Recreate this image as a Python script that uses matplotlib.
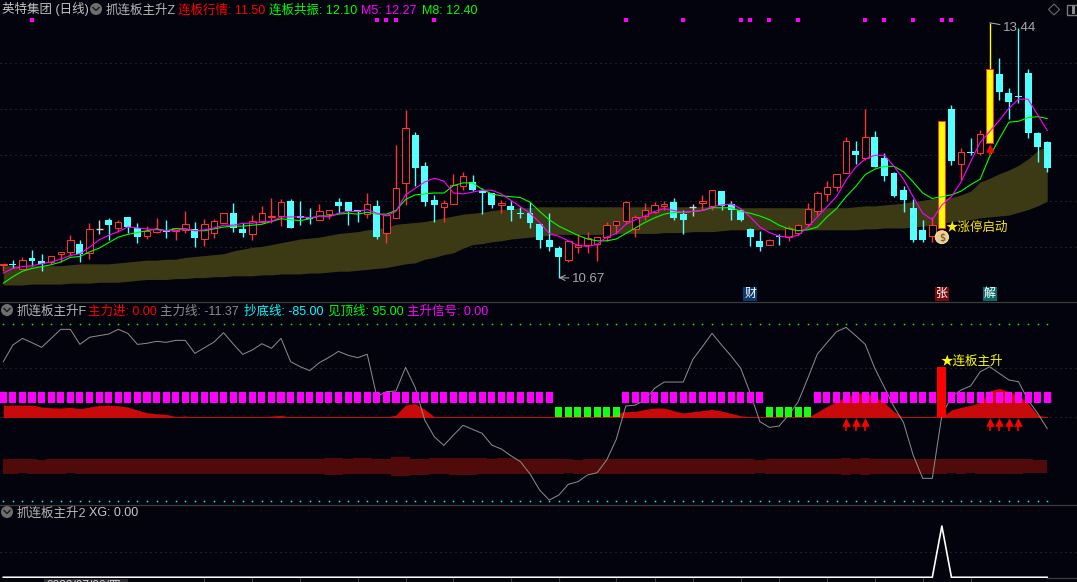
import matplotlib
matplotlib.use('Agg')
import numpy as np
import matplotlib.pyplot as plt
from matplotlib.patches import Circle, Ellipse, Polygon, Rectangle

plt.rcParams['font.family'] = ['Liberation Sans', 'Noto Sans CJK SC', 'DejaVu Sans']

# daily candles
opens = [10.81,10.82,10.76,10.88,10.85,10.84,10.93,10.95,11.04,10.94,11.20,11.30,11.21,11.33,11.21,11.12,11.17,11.19,11.18,11.19,11.20,11.09,11.15,11.26,11.37,11.20,11.14,11.27,11.33,11.34,11.50,11.34,11.33,11.30,11.36,11.49,11.49,11.40,
         11.36,11.45,11.16,11.32,11.70,12.22,11.88,11.51,11.44,11.47,11.67,11.71,11.61,11.59,11.46,11.45,11.37,11.37,11.25,11.08,10.99,10.86,11.00,11.03,11.04,11.11,11.24,11.29,11.20,11.34,11.38,11.45,11.49,11.36,11.44,11.48,11.45,
         11.61,11.47,11.41,11.20,11.07,11.02,11.12,11.11,11.16,11.25,11.39,11.58,11.65,11.81,12.05,11.97,12.20,11.97,11.81,11.62,11.43,11.19,11.12,11.21,12.50,11.90,12.04,12.02,12.13,12.88,12.68,12.64,12.89,12.24,12.14]
closes = [10.82,10.81,10.86,10.85,10.82,10.91,10.95,11.08,10.93,11.20,11.20,11.24,11.28,11.22,11.11,11.18,11.20,11.17,11.21,11.25,11.10,11.25,11.29,11.37,11.21,11.15,11.29,11.37,11.34,11.49,11.21,11.32,11.31,11.39,11.41,11.45,11.39,11.38,
          11.47,11.11,11.35,11.64,12.30,11.86,11.49,11.46,11.48,11.68,11.77,11.62,11.59,11.46,11.48,11.41,11.36,11.26,11.08,11.00,10.89,11.07,11.03,11.10,11.11,11.24,11.29,11.49,11.33,11.40,11.46,11.47,11.32,11.30,11.44,11.50,11.62,
          11.45,11.40,11.30,11.11,11.00,11.08,11.11,11.21,11.24,11.42,11.59,11.66,11.80,12.16,12.00,12.20,11.87,11.77,11.56,11.51,11.08,11.08,11.24,12.37,11.94,12.04,12.03,12.23,12.94,12.69,12.58,12.63,12.24,12.09,11.86]
highs = [10.82,10.86,10.89,10.97,10.93,10.91,10.95,11.13,11.08,11.26,11.30,11.32,11.30,11.33,11.26,11.23,11.32,11.30,11.21,11.39,11.28,11.31,11.31,11.37,11.48,11.26,11.35,11.45,11.54,11.53,11.52,11.50,11.43,11.47,11.41,11.54,11.49,11.41,
         11.59,11.51,11.35,12.11,12.49,12.25,11.93,11.57,11.51,11.80,11.82,11.79,11.64,11.59,11.51,11.50,11.44,11.49,11.25,11.37,11.01,11.07,11.14,11.17,11.11,11.28,11.29,11.50,11.35,11.48,11.49,11.50,11.54,11.41,11.47,11.57,11.62,
         11.61,11.50,11.42,11.21,11.18,11.09,11.14,11.23,11.25,11.48,11.61,11.72,11.80,12.20,12.16,12.50,12.26,12.02,11.82,11.67,11.52,11.30,11.33,12.37,12.55,12.08,12.19,12.28,13.44,13.06,12.73,13.38,12.94,12.25,12.16]
lows = [10.74,10.77,10.76,10.80,10.74,10.82,10.84,10.91,10.84,10.87,11.14,11.08,11.17,11.16,11.05,11.09,11.15,11.10,11.08,11.16,11.00,11.01,11.10,11.26,11.17,11.11,11.08,11.26,11.26,11.23,11.21,11.24,11.25,11.30,11.31,11.37,11.24,11.28,
        11.32,11.09,11.05,11.32,11.46,11.67,11.45,11.28,11.27,11.47,11.62,11.61,11.36,11.43,11.37,11.29,11.32,11.21,10.99,10.96,10.67,10.84,10.94,10.94,10.85,11.07,11.14,11.25,11.11,11.30,11.37,11.40,11.30,11.14,11.34,11.41,11.40,
        11.41,11.30,11.29,11.01,10.96,11.02,11.03,11.07,11.13,11.22,11.35,11.50,11.61,11.81,11.91,11.95,11.87,11.72,11.55,11.38,11.06,11.06,11.06,11.21,11.89,11.73,12.00,12.00,12.13,12.60,12.39,12.57,12.19,11.93,11.82]
limit_up = [98, 103]

m5 = [10.72,10.77,10.79,10.80,10.82,10.84,10.87,10.91,10.93,11.00,11.08,11.13,11.17,11.22,11.21,11.20,11.19,11.18,11.18,11.20,11.18,11.19,11.21,11.24,11.24,11.26,11.26,11.28,11.28,11.33,11.33,11.33,11.32,11.34,11.33,11.37,11.39,11.39,
      11.41,11.37,11.34,11.39,11.57,11.64,11.71,11.75,11.72,11.59,11.58,11.60,11.62,11.62,11.58,11.51,11.44,11.37,11.27,11.15,11.12,11.07,11.02,11.01,11.03,11.11,11.15,11.25,11.30,11.34,11.39,11.42,11.40,11.38,11.39,11.40,11.44,
      11.46,11.47,11.42,11.33,11.22,11.16,11.12,11.11,11.13,11.22,11.33,11.44,11.55,11.73,11.87,11.96,12.00,12.00,11.88,11.74,11.55,11.37,11.30,11.46,11.55,11.71,11.93,12.14,12.26,12.38,12.51,12.61,12.61,12.44,12.27]
m8 = [10.61,10.68,10.74,10.77,10.79,10.81,10.84,10.89,10.90,10.95,10.99,11.05,11.11,11.14,11.16,11.18,11.20,11.18,11.20,11.20,11.18,11.18,11.20,11.22,11.23,11.23,11.24,11.25,11.28,11.31,11.30,11.29,11.31,11.34,11.34,11.36,11.37,11.36,
      11.38,11.36,11.36,11.40,11.52,11.57,11.58,11.59,11.59,11.67,11.70,11.70,11.63,11.58,11.56,11.55,11.54,11.49,11.39,11.30,11.23,11.18,11.13,11.09,11.07,11.07,11.09,11.15,11.21,11.27,11.32,11.36,11.38,11.38,11.39,11.40,11.43,
      11.43,11.43,11.39,11.37,11.34,11.30,11.24,11.20,11.18,11.19,11.22,11.33,11.42,11.55,11.66,11.79,11.85,11.88,11.88,11.82,11.71,11.59,11.53,11.55,11.57,11.61,11.68,11.74,11.99,12.18,12.36,12.37,12.41,12.42,12.40]

ribbon_top = [10.80,10.80,10.80,10.80,10.80,10.80,10.80,10.81,10.82,10.82,10.82,10.82,10.83,10.84,10.85,10.86,10.86,10.87,10.87,10.89,10.90,10.91,10.92,10.93,10.96,10.98,11.00,11.01,11.03,11.05,11.07,11.09,11.10,11.11,11.13,11.15,11.16,11.17,
              11.19,11.20,11.22,11.25,11.26,11.27,11.28,11.30,11.32,11.34,11.36,11.37,11.38,11.40,11.41,11.42,11.43,11.43,11.44,11.44,11.44,11.44,11.44,11.44,11.44,11.44,11.44,11.44,11.44,11.44,11.44,11.44,11.44,11.44,11.44,11.44,11.44,
              11.43,11.44,11.43,11.43,11.43,11.43,11.43,11.43,11.43,11.43,11.43,11.43,11.43,11.43,11.44,11.45,11.45,11.46,11.47,11.48,11.50,11.51,11.53,11.53,11.54,11.57,11.61,11.71,11.75,11.80,11.84,11.89,11.96,12.05,12.10]
ribbon_bot = [10.59,10.59,10.59,10.60,10.60,10.60,10.60,10.61,10.61,10.61,10.62,10.62,10.62,10.63,10.64,10.65,10.65,10.65,10.66,10.66,10.67,10.67,10.68,10.68,10.69,10.69,10.69,10.70,10.70,10.71,10.71,10.71,10.72,10.72,10.73,10.74,10.74,10.75,
              10.76,10.77,10.78,10.80,10.82,10.83,10.87,10.89,10.92,10.94,10.99,11.03,11.04,11.06,11.07,11.09,11.10,11.11,11.12,11.13,11.14,11.14,11.14,11.14,11.14,11.14,11.15,11.15,11.15,11.15,11.15,11.16,11.16,11.16,11.17,11.17,11.17,
              11.18,11.19,11.19,11.19,11.19,11.19,11.19,11.19,11.19,11.19,11.19,11.19,11.19,11.19,11.19,11.20,11.20,11.21,11.21,11.21,11.22,11.23,11.24,11.26,11.28,11.29,11.30,11.32,11.33,11.34,11.35,11.38,11.41,11.45,11.50]

top_dots = [3, 39, 40, 41, 45, 65, 71, 77, 78, 80, 83, 90, 92, 95, 98, 99]
grid_prices = [11.0, 11.5, 12.0, 12.5, 13.0]

# indicator panel
main_line = [56.6,73.6,80.3,75.9,71.2,80.3,89.5,89.5,74.2,81.4,83.1,84.7,89.5,85.4,74.2,75.3,77.3,76.3,78.3,78.3,65.1,70.8,76.6,86.1,74.6,64.1,68.5,74.9,70.2,80.3,56.6,51.5,47.5,55.6,61.0,67.1,63.1,60.7,64.1,21.0,26.1,26.8,50.8,30.5,-2.7,-19.7,-28.5,-18.0,-8.1,-12.2,-16.3,-28.1,-32.2,-39.0,-45.1,-57.6,-73.9,
             -84.1,-79.0,-68.1,-65.4,-58.6,-56.3,-43.4,-22.4,11.5,12.5,17.6,29.5,35.9,35.9,35.9,59.0,71.9,85.4,73.6,62.4,49.8,24.4,-4.4,-10.2,-8.8,2.4,15.9,39.7,64.4,75.9,87.1,91.5,83.1,74.2,49.8,30.5,10.8,-5.4,-38.3,-62.0,-62.0,2.4,21.0,27.8,31.9,46.4,51.5,44.7,38.0,36.3,17.6,4.1,-11.37]
main_in = [12.5,12.5,12.5,12.5,10.5,9.8,9.5,10.2,8.8,10.5,12.2,12.5,11.9,10.5,7.5,4.7,3.7,3.1,0.7,1.4,0.3,0,0,0,0,0,0,0,1.4,2.0,0.3,0,0,0,0,0,0,0,0,0,0.3,2.4,12.5,14.2,8.1,0.7,0,0,1.0,0,
           0,0,0,0,0,0,0,0,0,0,0,0,0,0,4.7,5.8,6.1,8.1,9.5,9.5,6.8,4.4,5.8,6.8,8.1,6.4,4.1,1.7,0.3,0,0,0,0,0,0,5.4,11.2,15.9,21.0,24.4,25.1,21.0,14.9,5.8,0,0,0,0,0,7.5,10.2,12.2,14.9,27.1,29.5,26.1,22.7,14.2,2.4,0.3]
band_top = [-42.4,-42.4,-42.4,-42.4,-43.4,-42.4,-42.4,-42.4,-42.4,-42.4,-42.4,-42.4,-42.4,-42.4,-42.4,-42.4,-42.4,-42.4,-42.4,-42.4,-42.4,-42.4,-42.4,-42.4,-42.4,-42.4,-42.4,-42.4,-42.4,-42.4,-42.4,-42.4,-42.4,-42.4,-41.4,-41.4,-42.4,-41.7,-41.7,-42.4,-42.4,-40.3,-40.3,-42.4,-42.4,-41.7,-41.7,-41.4,-41.4,-41.4,-41.4,-42.4,-41.4,-41.4,-42.4,-42.4,
            -42.4,-42.4,-42.4,-42.4,-43.4,-42.4,-42.4,-42.4,-42.4,-42.4,-42.4,-42.4,-42.4,-42.4,-42.4,-42.4,-42.4,-42.4,-42.4,-42.4,-42.4,-42.4,-42.4,-43.4,-42.4,-42.4,-42.4,-42.4,-42.4,-42.4,-42.4,-42.4,-41.4,-42.4,-41.4,-42.4,-42.4,-42.4,-42.4,-42.4,-42.4,-42.4,-42.4,-42.4,-42.4,-42.4,-42.4,-42.4,-42.4,-42.4,-42.4,-42.4,-43.4,-43.4]
band_bot = [-57.6,-57.3,-56.9,-57.3,-57.3,-57.3,-57.3,-56.9,-57.3,-57.3,-57.3,-57.3,-57.3,-57.3,-57.3,-57.3,-57.3,-57.3,-57.3,-57.3,-57.3,-57.3,-57.3,-57.3,-57.3,-57.3,-57.3,-57.3,-57.3,-57.3,-57.3,-57.3,-57.3,-57.3,-58.3,-58.3,-57.3,-57.3,-57.3,-57.3,-57.3,-59.3,-59.3,-58.3,-58.3,-57.3,-57.3,-58.6,-58.6,-58.6,-57.3,-57.3,-57.3,-57.3,-57.3,-57.3,
            -57.3,-57.3,-57.3,-56.9,-57.3,-57.3,-57.3,-57.3,-57.3,-57.3,-57.3,-57.3,-57.3,-57.3,-57.3,-57.3,-57.3,-57.3,-57.3,-57.3,-57.3,-57.3,-57.3,-56.9,-57.3,-57.3,-57.3,-57.3,-57.3,-57.3,-57.3,-57.3,-58.3,-57.3,-58.3,-57.3,-57.3,-57.3,-57.3,-57.3,-57.3,-57.3,-57.3,-56.6,-57.3,-56.6,-57.3,-57.3,-57.3,-57.3,-57.3,-56.3,-56.3,-56.3]
signal = list('M' * 58 + 'G' * 7 + 'M' * 15 + 'G' * 5 + 'M' * 13 + 'N' + 'M' * 11)
bar_98 = 50.8
arrow_days = [88, 89, 90, 103, 104, 105, 106]
xg = [0] * 110
xg[98] = 1
date_ticks = [21, 26, 31, 37, 42, 47, 53, 58, 64, 68, 72, 77, 81, 86, 91, 96, 101]

BG = '#03030d'
RED = '#ff3232'
CYAN = '#54ffff'
GRID = '#3e3e3e'
DOTS = (0, (1, 4))
WICK = 1.0
days = np.arange(len(opens))

W, H = 1077, 582
fig = plt.figure(figsize=(W / 100, H / 100), dpi=100, facecolor=BG)

def panel(y0, y1, ylim):
    ax = fig.add_axes([0, 1 - y1 / H, 1, (y1 - y0) / H], facecolor=BG)
    ax.set_xlim(-0.345, 112.11)
    ax.set_ylim(*ylim)
    ax.axis('off')
    return ax

ax1 = panel(0, 301, (10.416, 13.688))
ax2 = panel(302, 504, (-88.1, 117.3))
ax3 = panel(505, 578, (-0.014, 1.41))

# main panel
for p in grid_prices:
    ax1.axhline(p, color=GRID, lw=0.72, ls=DOTS, zorder=1)
ax1.fill_between(days, ribbon_bot, ribbon_top, color='#3c3a14', lw=0, zorder=2)

for i in days:
    o, c, h, l = opens[i], closes[i], highs[i], lows[i]
    top, bot = max(o, c), min(o, c)
    if i in limit_up:
        ax1.vlines(i, top, h, color='#ffff00', lw=WICK, snap=True, zorder=3)
        ax1.add_patch(Rectangle((i - 0.36, bot), 0.72, top - bot, fc='#ffff00', ec=RED, lw=0.72, zorder=3))
    elif c > o:
        ax1.vlines(i, top, h, color=RED, lw=WICK, snap=True, zorder=3)
        ax1.vlines(i, l, bot, color=RED, lw=WICK, snap=True, zorder=3)
        ax1.add_patch(Rectangle((i - 0.34, bot), 0.68, top - bot, fc=BG, ec=RED, lw=0.72, zorder=3))
    elif c < o:
        ax1.vlines(i, l, h, color=CYAN, lw=WICK, snap=True, zorder=3)
        ax1.add_patch(Rectangle((i - 0.36, bot), 0.72, top - bot, fc=CYAN, lw=0, zorder=3))
    else:
        ax1.vlines(i, l, h, color='#d0d0d0', lw=WICK, snap=True, zorder=3)
        ax1.hlines(c, i - 0.36, i + 0.36, color='#d0d0d0', lw=WICK, snap=True, zorder=3)

ax1.plot(days, m8, color='#00ff00', lw=0.8, zorder=4)
ax1.plot(days, m5, color='#ff00ff', lw=0.8, zorder=5)
ax1.scatter(top_dots, [13.467] * len(top_dots), marker='s', s=5, color='#ff00ff', lw=0, zorder=5)

ax1.annotate('10.67', xy=(58, 10.67), xytext=(13, -1), textcoords='offset pixels', color='#a8a8a8',
             fontsize=9.5, va='center', arrowprops=dict(arrowstyle='->', color='#b0b0b0', lw=0.7, shrinkA=0, shrinkB=0))
ax1.annotate('13.44', xy=(103, 13.44), xytext=(13, -5), textcoords='offset pixels', color='#a8a8a8',
             fontsize=9.5, va='center', arrowprops=dict(arrowstyle='-', color='#b0b0b0', lw=0.7, shrinkA=0, shrinkB=0))

ax1.vlines(103, 12.0, 12.1, color='#ff0000', lw=1.4, zorder=6)
ax1.scatter([103], [12.08], marker='^', s=36, color='#ff0000', lw=0, zorder=6)

ax1.add_patch(Ellipse((98, 11.11), 1.4, 0.14, fc='#e8cf90', ec='#fff0c0', lw=0.6, zorder=7))
ax1.text(98, 11.11, '$', color='#6a4a10', fontsize=7, ha='center', va='center', zorder=8, family='DejaVu Sans')
ax1.text(98.4, 11.21, '★涨停启动', color='#ffea00', fontsize=9, va='center', zorder=8)

for i, ch, col in [(78, '财', '#0b3b6e'), (98, '张', '#7a0a0a'), (103, '解', '#0a6a6a')]:
    ax1.text(i, 10.49, ch, color='white', fontsize=8.6, ha='center', va='center', zorder=8,
             bbox=dict(fc=col, ec='none', pad=0.8))

# indicator panel
for v in [50, 0]:
    ax2.axhline(v, color=GRID, lw=0.72, ls=DOTS, zorder=1)
ax2.plot(days, [95] * len(days), ls='none', marker='s', ms=1.1, mew=0, color='#00ff00', zorder=1)
ax2.plot(days, [-85] * len(days), ls='none', marker='s', ms=1.1, mew=0, color='#00ffff', zorder=1)
ax2.fill_between(days, band_bot, band_top, step='mid', color='#500a0a', lw=0, zorder=2)
ax2.fill_between(days, 0, main_in, color='#c80a0a', lw=0, zorder=2)
ax2.plot(days, [0] * len(days), color='#c80a0a', lw=0.72, zorder=2)
for i, s in enumerate(signal):
    if s == 'M':
        ax2.bar(i, 10.5, bottom=14.9, width=0.74, color='#ff00ff', lw=0, zorder=4)
    elif s == 'G':
        ax2.bar(i, 10.5, bottom=0, width=0.74, color='#14ff14', lw=0, zorder=4)
ax2.bar(98, bar_98, width=0.92, color='#ff0000', lw=0, zorder=5)
ax2.plot(days, main_line, color='#8c8c8c', lw=0.72, zorder=3)
ax2.vlines(arrow_days, -13.6, -4, color='#ff0000', lw=1.2, zorder=5)
ax2.scatter(arrow_days, [-4.6] * len(arrow_days), marker='^', s=38, color='#ff0000', lw=0, zorder=5)
ax2.text(97.9, 56.5, '★连板主升', color='#ffff00', fontsize=9, va='center', zorder=6)

# XG panel
ax3.axhline(0.5, color=GRID, lw=0.72, ls=DOTS, zorder=1)
ax3.plot(days, xg, color='white', lw=1.2, zorder=3)

# chrome in pixel coordinates
ov = fig.add_axes([0, 0, 1, 1], facecolor='none')
ov.set_xlim(0, W)
ov.set_ylim(H, 0)
ov.axis('off')

for y in [301.5, 504.5]:
    ov.plot([0, W], [y, y], color='#3c3c3c', lw=0.9)
ov.plot([1047, W], [578, 578], color='#3c3c3c', lw=0.9)

for x in date_ticks:
    px = 3.3 + 9.577 * x
    ov.plot([px, px], [578, 582], color='#3c3c3c', lw=0.8)
ov.add_patch(Rectangle((44, 579), 84, 4, fc='#2c2c2c', ec='none'))
ov.text(46, 585.5, '2023/07/06/四', color='#d0d0d0', fontsize=8.6, va='center', clip_on=True)

def icon(x, y):
    ov.add_patch(Circle((x, y), 6, fc='#6e6e6e', ec='none'))
    ov.plot([x - 3, x, x + 3], [y - 1.5, y + 1.5, y - 1.5], color='#1a1a1a', lw=1)

def label(x, y, s, col):
    ov.text(x, y + 4.5, s, color=col, fontsize=9, va='baseline', ha='left')

label(2, 9, '英特集团 (日线)', '#c4c4c4')
icon(96, 9)
label(106, 9, '抓连板主升Z', '#b8b8b8')
label(178, 9, '连板行情: 11.50', '#ff0000')
label(269, 9, '连板共振: 12.10', '#00ff00')
label(361, 9, 'M5: 12.27', '#ff00ff')
label(422, 9, 'M8: 12.40', '#00ff00')

icon(7, 310)
label(17, 310, '抓连板主升F', '#b8b8b8')
label(88, 310, '主力进: 0.00', '#ff0000')
label(160, 310, '主力线: -11.37', '#8c8c8c')
label(244, 310, '抄底线: -85.00', '#00ffff')
label(328, 310, '见顶线: 95.00', '#00ff00')
label(407, 310, '主升信号: 0.00', '#ff00ff')

icon(7, 512)
label(17, 512, '抓连板主升2', '#b8b8b8')
label(89, 512, 'XG: 0.00', '#c8c8c8')

ov.add_patch(Polygon([(1054, 4), (1059.5, 9.5), (1054, 15), (1048.5, 9.5)], fc='none', ec='#6a6a6a', lw=0.8))
ov.add_patch(Rectangle((1066.5, 4.5), 11, 10.5, fc='none', ec='#7a7a7a', lw=1))
ov.add_patch(Rectangle((1072, 6), 3, 7.5, fc='#8a8a8a', ec='none'))

fig.savefig('out.png', dpi=100, facecolor=BG)
